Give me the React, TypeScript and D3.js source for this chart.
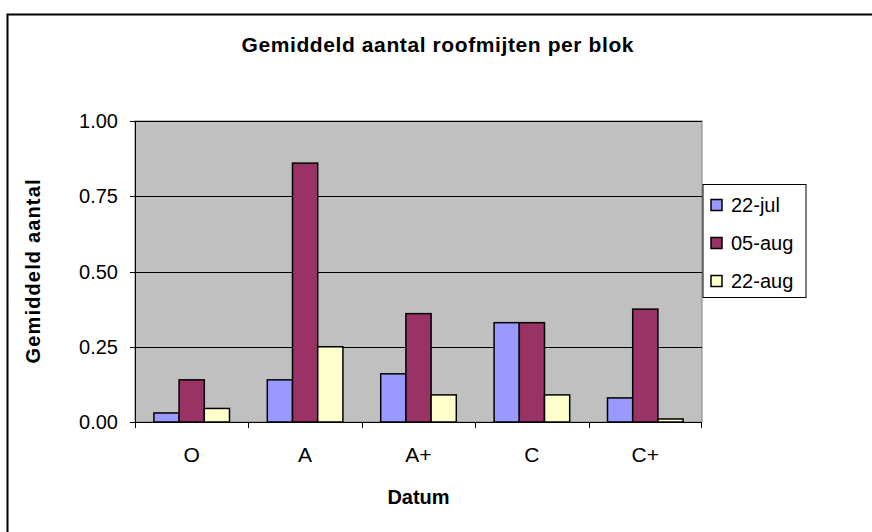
import React from "react";
import * as d3 from "d3";

const categories = ["O", "A", "A+", "C", "C+"];
const seriesNames = ["22-jul", "05-aug", "22-aug"];
const jul22 = [0.03, 0.14, 0.16, 0.33, 0.08];
const aug05 = [0.14, 0.86, 0.36, 0.33, 0.375];
const aug22 = [0.045, 0.25, 0.09, 0.09, 0.01];
const yTicks = [0, 0.25, 0.5, 0.75, 1];
const colors = ["#9999FF", "#993366", "#FFFFCC"];
const title = "Gemiddeld aantal roofmijten per blok";
const xTitle = "Datum";
const yTitle = "Gemiddeld aantal";

const FONT = "'Liberation Sans', Arial, sans-serif";

export default function App() {
  const W = 872, H = 532;
  const left = 135, right = 702, top = 121, bottom = 422;
  const y = d3.scaleLinear().domain([0, 1]).range([bottom, top]);
  const x0 = d3.scaleBand<string>().domain(categories).range([left, right]).padding(0);
  const x1 = d3
    .scaleBand<string>()
    .domain(seriesNames)
    .range([0, x0.bandwidth()])
    .paddingInner(0)
    .paddingOuter(0.75);
  const series = [jul22, aug05, aug22];
  const fmt = d3.format(".2f");

  return (
    <svg
      width={W}
      height={H}
      style={{ position: "absolute", left: 0, top: 0, background: "#fff" }}
      fontFamily={FONT}
    >
      <rect x={7.5} y={14.5} width={900} height={600} fill="#fff" stroke="#000" strokeWidth={2} />
      <text x={437.5} y={52} textAnchor="middle" fontWeight="bold" fontSize={21} textLength={392} lengthAdjust="spacing">
        {title}
      </text>
      {/* plot area */}
      <rect x={left} y={top} width={right - left} height={bottom - top} fill="#C0C0C0" stroke="#808080" strokeWidth={1} />
      {yTicks.map((t) => (
        <g key={t}>
          {t > 0 && (
            <line x1={left} x2={right} y1={Math.round(y(t)) + 0.5} y2={Math.round(y(t)) + 0.5} stroke="#000" strokeWidth={1} />
          )}
          <line x1={left - 5} x2={left} y1={Math.round(y(t)) + 0.5} y2={Math.round(y(t)) + 0.5} stroke="#000" strokeWidth={1} />
          <text x={118} y={y(t)} dy="0.35em" textAnchor="end" fontSize={20}>
            {fmt(t)}
          </text>
        </g>
      ))}
      {/* bars */}
      {categories.map((c, i) => (
        <g key={c}>
          {seriesNames.map((s, j) => {
            const v = series[j][i];
            const bx = (x0(c) as number) + (x1(s) as number);
            return (
              <rect
                key={s}
                x={bx}
                y={y(v)}
                width={x1.bandwidth()}
                height={y(0) - y(v)}
                fill={colors[j]}
                stroke="#000"
                strokeWidth={1.5}
              />
            );
          })}
        </g>
      ))}
      {/* axes lines */}
      <line x1={left + 0.5} x2={left + 0.5} y1={top} y2={bottom} stroke="#000" strokeWidth={1} />
      <line x1={left - 5} x2={right} y1={bottom + 0.5} y2={bottom + 0.5} stroke="#000" strokeWidth={1} />
      {categories.map((c) => (
        <line key={"t" + c} x1={Math.round(x0(c) as number) + 0.5} x2={Math.round(x0(c) as number) + 0.5} y1={bottom} y2={bottom + 6} stroke="#000" />
      ))}
      <line x1={right - 0.5} x2={right - 0.5} y1={bottom} y2={bottom + 6} stroke="#000" />
      {categories.map((c) => (
        <text key={"l" + c} x={(x0(c) as number) + x0.bandwidth() / 2} y={462} textAnchor="middle" fontSize={21}>
          {c}
        </text>
      ))}
      <text x={(left + right) / 2} y={504} textAnchor="middle" fontWeight="bold" fontSize={20}>
        {xTitle}
      </text>
      <text
        transform={`translate(40, ${(top + bottom) / 2}) rotate(-90)`}
        textAnchor="middle"
        fontWeight="bold"
        fontSize={20}
        textLength={184}
        lengthAdjust="spacing"
      >
        {yTitle}
      </text>
      {/* legend */}
      <rect x={703} y={184.5} width={103} height={113} fill="#fff" stroke="#000" strokeWidth={1} />
      {seriesNames.map((s, j) => (
        <g key={s}>
          <rect x={711} y={199.5 + j * 38} width={11} height={11} fill={colors[j]} stroke="#000" strokeWidth={1.5} />
          <text x={731} y={205 + j * 38} dy="0.35em" fontSize={20}>
            {s}
          </text>
        </g>
      ))}
    </svg>
  );
}
